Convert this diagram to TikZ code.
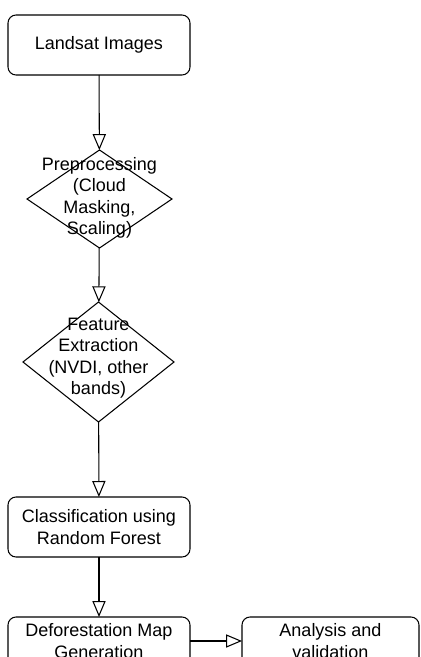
\documentclass[tikz,border=0pt]{standalone}
\usepackage{fontspec}
\setmainfont{Liberation Sans}
\usepackage{tikz}
\usetikzlibrary{arrows.meta,positioning,shapes.geometric}
\tikzset{
  box/.style={draw, rounded corners=0.2cm, align=center, minimum width=4.55cm, minimum height=1.5cm, inner sep=0pt, outer sep=0pt, fill=white},
  dec/.style={draw, diamond, inner sep=0pt, outer sep=0pt, fill=white},
  txt/.style={align=center, inner sep=0pt},
  arrow/.style={-{Triangle[open, length=0.4cm, width=0.33cm]}}
}

\begin{document}
\begin{tikzpicture}[line width=0.75pt, font=\fontsize{12.8}{15.3}\selectfont]
    \clip (0,0) rectangle (10.5,-16.425);
    % Steps
    \node[box] (land) at (2.475,-1.125) {Landsat Images};
    \node[dec, minimum width=3.625cm, minimum height=2.45cm,
      label={[txt, yshift=0.03cm]center:Preprocessing\\(Cloud\\Masking,\\Scaling)}] (prep) at (2.4875,-4.975) {};
    \node[dec, minimum width=3.775cm, minimum height=3.0cm,
      label={[txt, yshift=0.1cm]center:Feature\\Extraction\\(NVDI, other\\bands)}] (feat) at (2.4625,-9.05) {};
    \node[box] (cls) at (2.475,-13.175) {Classification using\\Random Forest};
    \node[box, minimum height=1.2cm] (defo) at (2.475,-16.025) {Deforestation Map\\Generation};
    \node[box, minimum width=4.425cm, minimum height=1.2cm] (ana) at (8.2625,-16.025) {Analysis and\\validation};
    % Arrows
    \draw[arrow] (land) -- (prep);
    \draw[arrow] (prep) -- (feat);
    \draw[arrow] (feat) -- (cls);
    \draw[arrow] (cls) -- (defo);
    \draw[arrow] (defo) -- (ana);
\end{tikzpicture}
\end{document}
